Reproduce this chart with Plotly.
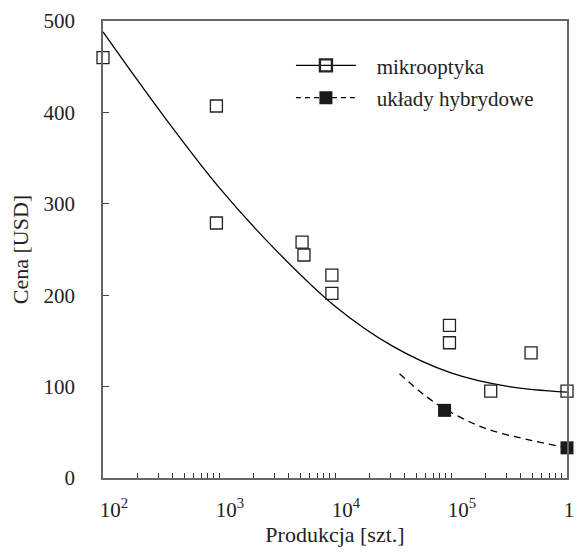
import plotly.graph_objects as go

# data
mikro_x = [100, 950, 950, 5200, 5400, 9400, 9400, 97000, 97000, 220000, 490000, 1000000]
mikro_y = [460, 407, 279, 258, 244, 222, 202, 167, 148, 95, 137, 95]

hybr_x = [88000, 1000000]
hybr_y = [74, 33]

# trend curves
mikro_fit_x = [100, 316, 1000, 3162, 10000, 31623, 100000, 316228, 1000000]
mikro_fit_y = [488, 400, 318, 248, 188, 144, 115, 100, 94]

hybr_fit_x = [36000, 60000, 93000, 200000, 500000, 1000000]
hybr_fit_y = [114, 90, 74, 54, 41, 33]

ytick_vals = [0, 100, 200, 300, 400, 500]

FONT = "Liberation Serif, Times New Roman, Times, serif"
FS = 21
FT = 22
GAP = "\u00a0\u00a0\u00a0"

fig = go.Figure()

fig.add_trace(go.Scatter(x=mikro_fit_x, y=mikro_fit_y, mode="lines",
                         line=dict(color="black", width=1.3, shape="spline", smoothing=1.0),
                         showlegend=False, hoverinfo="skip", cliponaxis=False))
fig.add_trace(go.Scatter(x=hybr_fit_x, y=hybr_fit_y, mode="lines",
                         line=dict(color="black", width=1.3, dash="7px,5px", shape="spline"),
                         showlegend=False, hoverinfo="skip", cliponaxis=False))

fig.add_trace(go.Scatter(x=mikro_x, y=mikro_y, mode="markers", name="mikrooptyka",
                         marker=dict(symbol="square-open", size=12, color="#222",
                                     line=dict(width=1.3)),
                         cliponaxis=False, showlegend=False))
fig.add_trace(go.Scatter(x=hybr_x, y=hybr_y, mode="markers", name="układy hybrydowe",
                         marker=dict(symbol="square", size=13, color="#1a1a1a"),
                         cliponaxis=False, showlegend=False))

# legend entries
fig.add_trace(go.Scatter(x=[None], y=[None], mode="lines+markers", name=GAP + "mikrooptyka",
                         legendgroup="a",
                         line=dict(color="black", width=1.3),
                         marker=dict(symbol="square-open", size=12, color="#222",
                                     line=dict(width=2.4))))
fig.add_trace(go.Scatter(x=[None], y=[None], mode="lines+markers", name=GAP + "układy hybrydowe",
                         legendgroup="b",
                         line=dict(color="black", width=1.3, dash="5px,4px"),
                         marker=dict(symbol="square", size=13, color="#1a1a1a")))

xt_vals = []
xt_text = []
for d in range(2, 7):
    for m in range(1, 10):
        v = m * 10 ** d
        if v > 10 ** 6:
            break
        xt_vals.append(v)
        xt_text.append(f"10<sup>{d}</sup>" if m == 1 else "")

# the page body adds an 8px offset, so the figure is 8px smaller and margins shifted
fig.update_layout(
    width=574, height=548,
    margin=dict(l=95, r=15, t=13, b=78),
    paper_bgcolor="white", plot_bgcolor="white",
    font=dict(family=FONT, size=FS, color="#222"),
    legend=dict(x=0.405, y=0.947, xanchor="left", yanchor="top",
                bgcolor="rgba(0,0,0,0)", font=dict(family=FONT, size=FS),
                itemwidth=60, tracegroupgap=2),
    xaxis=dict(type="log", range=[2, 6], tickvals=xt_vals, ticktext=xt_text,
               automargin=False, ticklabeloverflow="allow",
               ticks="inside", ticklen=5, tickcolor="#333", tickwidth=1,
               showline=True, linecolor="#666", linewidth=1.5, mirror=True,
               showgrid=False, zeroline=False, ticklabelstandoff=12,
               ticklabelshift=11,
               tickfont=dict(family=FONT, size=FS, color="#222"),
               title=dict(text="Produkcja [szt.]", font=dict(family=FONT, size=FT),
                          standoff=4)),
    yaxis=dict(range=[0, 500], tickvals=ytick_vals, automargin=False,
               ticks="inside", ticklen=6, tickcolor="#444", tickwidth=1,
               showline=True, linecolor="#666", linewidth=1.5, mirror=True,
               showgrid=False, zeroline=False, ticklabelstandoff=22,
               tickfont=dict(family=FONT, size=FS, color="#222"),
               title=dict(text="Cena [USD]", font=dict(family=FONT, size=FT),
                          standoff=17)),
)

fig.write_html("out.html")
